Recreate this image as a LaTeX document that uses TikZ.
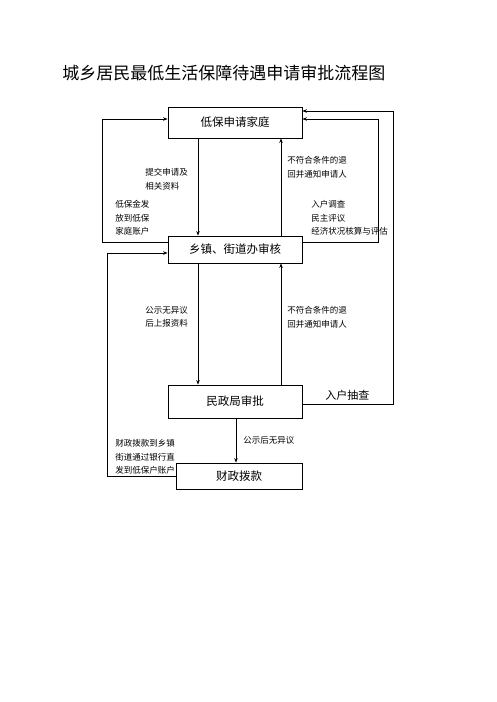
\documentclass[tikz,border=0pt]{standalone}
\usepackage{fontspec}
\setmainfont{Noto Sans CJK SC}
\usetikzlibrary{arrows.meta,positioning}
\begin{document}
\begin{tikzpicture}[x=1pt,y=-1pt,>={Stealth[length=4.5pt,width=3.5pt]},line width=0.8pt,
  box/.style={draw,minimum width=134pt,inner sep=0pt,font=\fontsize{11.5}{12}\selectfont},
  note/.style={anchor=north west,inner sep=0pt,align=left,font=\fontsize{8.5}{13.5}\selectfont}]
  \useasboundingbox (0,0) rectangle (496,702);
  \node[anchor=west,inner sep=0pt,font=\fontsize{17}{17}\selectfont] (title) at (62,73) {城乡居民最低生活保障待遇申请审批流程图};
  \node[box,minimum height=31pt] (A) at (235,122.5) {低保申请家庭};
  \node[box,minimum height=27pt] (B) at (235,249.5) {乡镇、街道办审核};
  \node[box,minimum height=33pt] (C) at (235,401.5) {民政局审批};
  \node[box,minimum height=26pt,minimum width=126pt] (D) at (239,476) {财政拨款};
  \draw[->] ([xshift=-37pt]A.south) to ([xshift=-37pt]B.north);
  \draw[->] ([xshift=46pt]B.north) to ([xshift=46pt]A.south);
  \draw[->] ([xshift=-37pt]B.south) to ([xshift=-37pt]C.north);
  \draw[->] ([xshift=46pt]C.north) to ([xshift=46pt]B.south);
  \draw[->] ([xshift=1pt]C.south) to ([xshift=-3pt]D.north);
  \draw[->] ([yshift=7.5pt]B.west) -- ++(-65,0) |- ([yshift=3.5pt]A.west);
  \draw[->] ([yshift=7.5pt]B.east) -- ++(76,0) |- ([yshift=3.5pt]A.east);
  \draw[->] ([yshift=-2.5pt]C.east) -- ++(91,0) |- ([yshift=11.5pt]A.east);
  \draw[->] (D.west) -- ++(-68,0) |- ([yshift=-3.5pt]B.west);
  \node[note] (n1) at (145,168) {提交申请及\\相关资料};
  \node[note] (n2) at (287,156) {不符合条件的退\\回并通知申请人};
  \node[note] (n3) at (115,200) {低保金发\\放到低保\\家庭账户};
  \node[note] (n4) at (311,200) {入户调查\\民主评议\\经济状况核算与评估};
  \node[note] (n5) at (145,306) {公示无异议\\后上报资料};
  \node[note] (n6) at (287,306) {不符合条件的退\\回并通知申请人};
  \node[anchor=west,inner sep=0pt,font=\fontsize{11}{11}\selectfont] (n7) at (325,395) {入户抽查};
  \node[note,anchor=west] (n8) at (243,440) {公示后无异议};
  \node[note] (n9) at (115,439) {财政拨款到乡镇\\街道通过银行直\\发到低保户账户};
\end{tikzpicture}
\end{document}
